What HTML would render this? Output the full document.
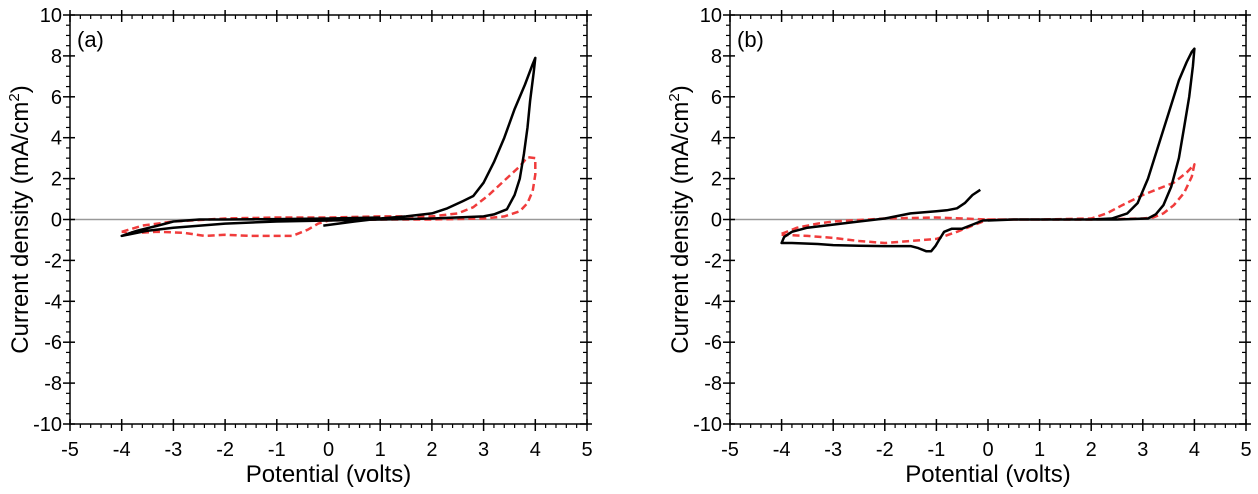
<!DOCTYPE html>
<html><head><meta charset="utf-8"><style>
body{margin:0;background:#fff;}
svg{display:block;font-family:"Liberation Sans",Arial,sans-serif;}
</style></head><body>
<svg id="chart" width="1258" height="494"></svg>
<script>
const xTicks=[-5,-4,-3,-2,-1,0,1,2,3,4,5];
const yTicks=[10,8,6,4,2,0,-2,-4,-6,-8,-10];
const aBlackX=[-0.1,0.5,1,1.5,2,2.3,2.6,2.8,3,3.2,3.4,3.6,3.8,3.95,4,3.97,3.9,3.85,3.78,3.7,3.6,3.45,3.2,3,2,1,0,-1,-2,-3,-3.5,-4,-3.7,-3.3,-3,-2.5,-2,-1,0,1];
const aBlackY=[-0.3,-0.1,0.05,0.15,0.3,0.55,0.9,1.15,1.8,2.8,4,5.4,6.6,7.6,7.9,7.2,5.8,4.5,3.2,2,1.2,0.5,0.25,0.15,0.05,0,-0.05,-0.1,-0.2,-0.4,-0.55,-0.8,-0.55,-0.3,-0.1,0,0,0.02,0.05,0.1];
const aRedX=[-4,-3.6,-3,-2,-1,0,1,2,2.5,2.8,3.1,3.4,3.7,3.85,4,4,3.95,3.85,3.7,3.4,3,2,1,0,-0.2,-0.4,-0.7,-1,-1.5,-2,-2.4,-2.8,-3.3,-3.7,-4];
const aRedY=[-0.6,-0.3,-0.1,0.05,0.1,0.1,0.15,0.15,0.3,0.6,1.2,1.9,2.6,3.05,3,2.2,1.4,0.8,0.4,0.15,0.05,0,0,-0.05,-0.2,-0.5,-0.8,-0.8,-0.8,-0.75,-0.8,-0.65,-0.6,-0.65,-0.6];
const bBlackX=[-0.15,-0.3,-0.45,-0.6,-0.8,-1,-1.5,-2,-2.5,-3,-3.5,-3.8,-3.95,-4,-3.8,-3.3,-3,-2.5,-2,-1.5,-1.35,-1.2,-1.1,-1.02,-0.95,-0.85,-0.7,-0.5,-0.3,-0.1,0.5,1,2,2.4,2.7,2.9,3.1,3.3,3.5,3.7,3.85,3.95,4,3.97,3.9,3.8,3.7,3.55,3.4,3.25,3.1,2.5,1.5,0.5,0];
const bBlackY=[1.45,1.2,0.8,0.55,0.45,0.4,0.3,0.05,-0.1,-0.25,-0.4,-0.6,-0.85,-1.15,-1.15,-1.2,-1.25,-1.28,-1.3,-1.3,-1.4,-1.55,-1.55,-1.3,-1,-0.6,-0.45,-0.45,-0.25,-0.05,0,0,0,0.05,0.3,0.8,2,3.6,5.2,6.8,7.7,8.2,8.35,7.5,6,4.5,3,1.6,0.7,0.25,0.05,0,0,0,-0.05];
const bRedX=[-4,-3.7,-3.3,-3,-2,-1,0,1,2,2.3,2.6,3,3.3,3.6,3.85,4,3.95,3.8,3.6,3.4,3.2,3,2,1,0,-0.3,-0.6,-1,-1.5,-2,-2.5,-3,-3.5,-4];
const bRedY=[-0.7,-0.4,-0.2,-0.1,0.05,0.1,0,0,0.05,0.3,0.7,1.2,1.5,1.8,2.3,2.7,2.1,1.3,0.7,0.3,0.1,0.05,0,0,0,-0.3,-0.6,-0.95,-1.05,-1.15,-1.05,-0.9,-0.8,-0.75];

const NS="http://www.w3.org/2000/svg";
const svg=document.getElementById('chart');
function mk(tag,attrs,parent){const e=document.createElementNS(NS,tag);for(const k in attrs)e.setAttribute(k,attrs[k]);(parent||svg).appendChild(e);return e;}
const TOP=15,BOT=424;
function panel(L,R,label,bx,by,rx,ry,id){
  const g=mk('g',{});
  
  
  const X=v=>L+(v+5)/10*(R-L);
  const Y=v=>TOP+(10-v)/20*(BOT-TOP);
  const z=mk('line',{x1:L,x2:R,y1:Y(0),y2:Y(0),stroke:'#999','stroke-width':1.5},g);
  
  
  for(let v=-5;v<=5.001;v+=0.2){const x=X(v);const maj=Math.abs(v-Math.round(v))<1e-6;
    mk('line',{x1:x,x2:x,y1:maj?BOT-5:BOT,y2:BOT+(maj?7:4),stroke:'#000','stroke-width':maj?1.5:1.2},g);
    mk('line',{x1:x,x2:x,y1:maj?TOP-5:TOP,y2:TOP+(maj?7:4),stroke:'#000','stroke-width':maj?1.5:1.2},g);}
  for(let v=-10;v<=10.001;v+=0.5){const y=Y(v);const maj=Math.abs(v/2-Math.round(v/2))<1e-6;
    mk('line',{x1:L-(maj?7:4),x2:maj?L+5:L,y1:y,y2:y,stroke:'#000','stroke-width':maj?1.5:1.2},g);
    mk('line',{x1:R-(maj?7:4),x2:maj?R+5:R,y1:y,y2:y,stroke:'#000','stroke-width':maj?1.5:1.2},g);}
  const fr=mk('rect',{x:L,y:TOP,width:R-L,height:BOT-TOP,fill:'none',stroke:'#000','stroke-width':1.5},g);
  
  
  xTicks.forEach(v=>{const t=mk('text',{x:X(v),y:BOT+32,'text-anchor':'middle','font-size':20},g);t.textContent=v;
    
    });
  yTicks.forEach(v=>{const t=mk('text',{x:L-8,y:Y(v)+7,'text-anchor':'end','font-size':20},g);t.textContent=v;
    
    });
  const xt=mk('text',{x:(L+R)/2,y:482,'text-anchor':'middle','font-size':24},g);xt.textContent='Potential (volts)';
  
  
  const yt=mk('text',{x:0,y:0,'text-anchor':'middle','font-size':24,transform:`translate(${L-42},${(TOP+BOT)/2}) rotate(-90)`},g);
  yt.innerHTML='Current density (mA/cm<tspan dy="-9" font-size="15">2</tspan><tspan dy="9">)</tspan>';
  
  
  const pl=mk('text',{x:L+7,y:TOP+32,'font-size':22},g);pl.textContent=label;
  
  
  const pts=(xs,ys)=>xs.map((x,i)=>X(x).toFixed(1)+','+Y(ys[i]).toFixed(1)).join(' ');
  const r=mk('polyline',{points:pts(rx,ry),fill:'none',stroke:'#f03c3c','stroke-width':2.5,'stroke-dasharray':'7,4','stroke-linejoin':'round'},g);
  
  
  const b=mk('polyline',{points:pts(bx,by),fill:'none',stroke:'#000','stroke-width':2.5,'stroke-linejoin':'round'},g);
  
  
}
panel(70,587,'(a)',aBlackX,aBlackY,aRedX,aRedY,'a');
panel(730,1246,'(b)',bBlackX,bBlackY,bRedX,bRedY,'b');
</script>
</body></html>
